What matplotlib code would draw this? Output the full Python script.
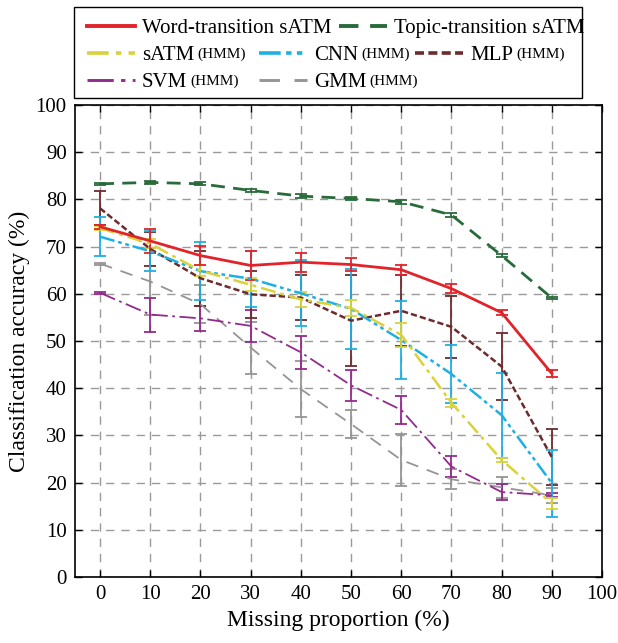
import matplotlib
matplotlib.use('Agg')
import matplotlib.pyplot as plt
from matplotlib.lines import Line2D
from matplotlib.patches import Rectangle

plt.rcParams['font.family'] = ['Liberation Serif', 'DejaVu Serif']
plt.rcParams['mathtext.fontset'] = 'stix'

missing = [0, 10, 20, 30, 40, 50, 60, 70, 80, 90]

word_mean = [74.2, 71.2, 68.1, 66.0, 66.7, 66.2, 65.1, 61.1, 56.0, 43.1]
word_err = [0.4, 2.6, 2.1, 3.0, 2.0, 1.4, 1.1, 0.9, 0.5, 0.7]

topic_mean = [83.3, 83.6, 83.3, 81.9, 80.7, 80.2, 79.5, 76.7, 68.1, 59.1]
topic_err = [0.2, 0.3, 0.3, 0.3, 0.4, 0.3, 0.4, 0.5, 0.4, 0.3]

satm_mean = [73.9, 70.6, 64.9, 61.9, 58.8, 57.0, 51.3, 36.9, 24.8, 15.6]
satm_err = [0.4, 1.0, 1.2, 1.4, 1.5, 1.6, 2.5, 0.8, 0.5, 1.2]

cnn_mean = [72.1, 69.0, 64.8, 63.2, 60.1, 56.8, 50.2, 43.0, 34.3, 19.9]
cnn_err = [4.1, 4.2, 6.2, 5.9, 7.0, 8.5, 8.2, 6.2, 9.0, 7.1]

mlp_mean = [78.1, 69.5, 63.3, 59.9, 59.2, 54.3, 56.4, 53.0, 44.6, 25.4]
mlp_err = [3.6, 3.6, 5.8, 5.0, 4.7, 9.6, 7.5, 6.6, 7.0, 6.0]

svm_mean = [60.2, 55.6, 54.8, 53.2, 47.6, 40.6, 35.4, 23.4, 18.0, 17.3]
svm_err = [0.2, 3.6, 2.6, 3.4, 3.5, 3.3, 3.0, 2.3, 1.7, 0.4]

gmm_mean = [66.4, 62.6, 57.8, 48.6, 39.8, 32.4, 24.8, 20.7, 19.0, 17.3]
gmm_err = [0.2, 7.0, 4.0, 5.5, 5.9, 3.0, 5.6, 2.1, 2.2, 1.6]

SERIES = [
    ("Word-transition sATM", "", word_mean, word_err, "#E0242A", "-", 2.0),
    ("Topic-transition sATM", "", topic_mean, topic_err, "#2A6B3C", (0, (5, 3)), 2.0),
    ("sATM", "(HMM)", satm_mean, satm_err, "#D9D23A", (0, (6, 2, 1.5, 2)), 1.8),
    ("CNN", "(HMM)", cnn_mean, cnn_err, "#1FB0E3", (0, (6, 1.5, 1.5, 1.5, 1.5, 1.5)), 1.8),
    ("MLP", "(HMM)", mlp_mean, mlp_err, "#6E2B2D", (0, (2.5, 1.2)), 1.8),
    ("SVM", "(HMM)", svm_mean, svm_err, "#932A8C", (0, (9, 2.5, 1.5, 2.5)), 1.3),
    ("GMM", "(HMM)", gmm_mean, gmm_err, "#959595", (0, (7, 5)), 1.3),
]

W, H = 618, 643
fig = plt.figure(figsize=(W / 100, H / 100), dpi=100)
ax = fig.add_axes([75 / W, 1 - 577 / H, (602 - 75) / W, (577 - 105) / H])

# draw back to front so the sATM lines sit on top
for name, sub, mean, err, color, ls, lw in reversed(SERIES):
    ax.errorbar(missing, mean, yerr=err, color=color, linestyle=ls,
                linewidth=lw, elinewidth=1.3, capsize=4, capthick=1.3)

ax.set_xlim(-5, 100)
ax.set_ylim(0, 100)
ax.set_xticks(range(0, 101, 10))
ax.set_yticks(range(0, 101, 10))
ax.tick_params(direction="in", length=5, width=1, labelsize=15,
               top=True, right=True, pad=6)
ax.grid(True, color="#9a9a9a", linestyle=(0, (6, 5)), linewidth=1)
ax.set_axisbelow(True)
for sp in ax.spines.values():
    sp.set_linewidth(1.2)
ax.set_xlabel("Missing proportion (%)", fontsize=17, labelpad=4)
ax.set_ylabel("Classification accuracy (%)", fontsize=17, labelpad=4)

# legend box above the axes, laid out by hand
fig.add_artist(Rectangle((74 / W, 1 - 98 / H), (582 - 74) / W, (98 - 7) / H,
                         transform=fig.transFigure, fill=False,
                         edgecolor="black", linewidth=1.0))
slots = [(87, 26), (339, 26), (87, 53), (259, 53), (415, 53), (87, 80), (259, 80)]
labels = []
for (name, sub, mean, err, color, ls, lw), (px, py) in zip(SERIES, slots):
    fig.add_artist(Line2D([px / W, (px + 48) / W], [1 - py / H, 1 - py / H],
                          transform=fig.transFigure, color=color,
                          linestyle=ls, linewidth=lw + 0.8))
    t = fig.text((px + 55) / W, 1 - py / H, name, fontsize=15,
                 va="center_baseline", ha="left")
    labels.append((t, sub))

fig.canvas.draw()
r = fig.canvas.get_renderer()
for t, sub in labels:
    if not sub:
        continue
    bb = t.get_window_extent(renderer=r)
    x, y = t.get_position()
    fig.text(bb.x1 / (W) + 3 / W, y, sub, fontsize=11,
             va="center_baseline", ha="left")

fig.savefig("out.png", dpi=100)
